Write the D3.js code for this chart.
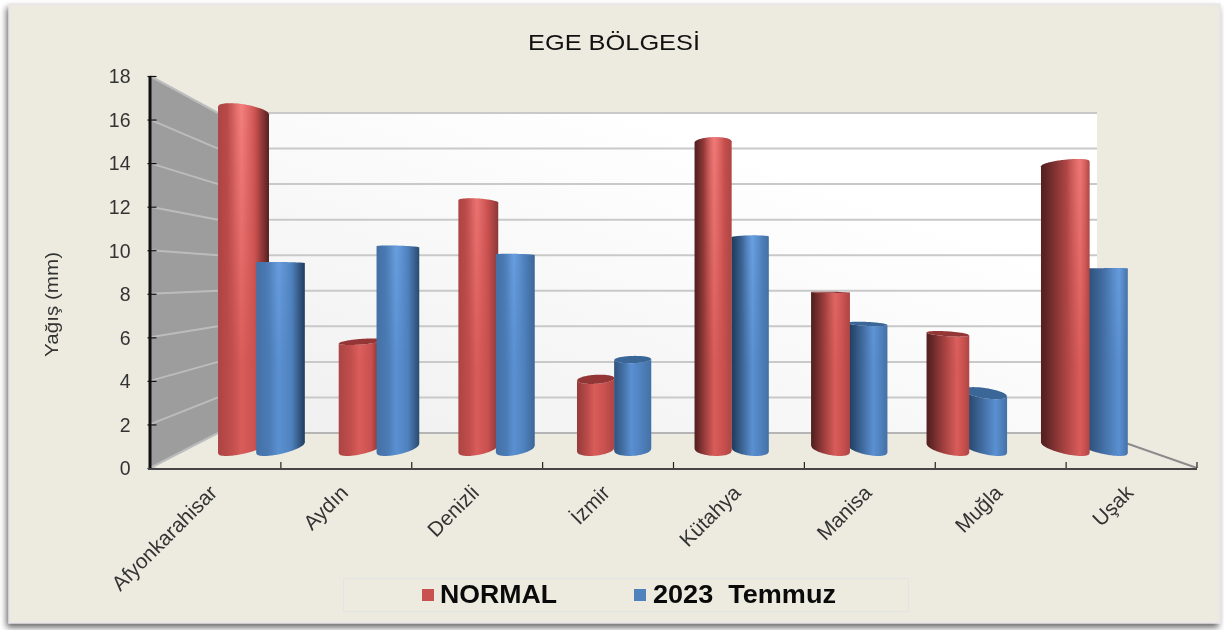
<!DOCTYPE html>
<html><head><meta charset="utf-8">
<script src="https://cdnjs.cloudflare.com/ajax/libs/d3/7.8.5/d3.min.js"></script>
<style>html,body{margin:0;padding:0;background:#fff;overflow:hidden}svg{display:block;filter:blur(0.55px)}text{font-family:"Liberation Sans",Arial,sans-serif}</style>
</head><body><svg id="c" width="1224" height="630"></svg>
<script>
const chartTitle = "EGE BÖLGESİ";
const yAxisTitle = "Yağış (mm)";
const categories = ["Afyonkarahisar","Aydın","Denizli","İzmir","Kütahya","Manisa","Muğla","Uşak"];
const seriesNames = ["NORMAL","2023  Temmuz"];
const normalValues = [17.2,5.5,12.6,3.6,15.6,8.0,5.9,14.5];
const temmuzValues = [9.5,10.3,9.9,4.6,10.8,6.4,2.9,9.2];
const yTicks = [0,2,4,6,8,10,12,14,16,18];
const seriesColors = [
  {base:"#c9514f",light:"#d95c5a",dark:"#4a1c1c",cap:"#953636",gloss:"#ff8f8c"},
  {base:"#4f81bd",light:"#5a90d2",dark:"#1c3654",cap:"#3a6698",gloss:"#86bdfa"}
];

const svg = d3.select("#c");
const defs = svg.append("defs");
const f = defs.append("filter").attr("id","sh").attr("x","-3%").attr("y","-3%").attr("width","106%").attr("height","106%");
f.append("feDropShadow").attr("dx",-2).attr("dy",4).attr("stdDeviation",3).attr("flood-color","#000").attr("flood-opacity",.6);
svg.append("rect").attr("x",9).attr("y",4).attr("width",1211).attr("height",619)
  .attr("fill","#edebe0").attr("stroke","#e4dfe8").attr("stroke-width",1).attr("filter","url(#sh)");

// scales
const yFront = d3.scaleLinear().domain([0,18]).range([468,76]);
const yBack = d3.scaleLinear().domain([0,18]).range([433,113]);
const yBar = d3.scaleLinear().domain([0,18]).range([450.5,94.5]);
const xAxisBand = d3.scaleBand().domain(categories).range([150,1197]);
const xGroup = d3.scaleBand().domain(categories).range([203.3,1142.5]);
const xSeries = d3.scaleBand().domain(seriesNames).range([-37,37]);
const wallL = 218, wallR = 1097, frontL = 150, frontR = 1197;

// back wall
const bg = defs.append("linearGradient").attr("id","wall").attr("x1",0).attr("y1",1).attr("x2",1).attr("y2",0);
bg.append("stop").attr("offset",0).attr("stop-color","#efefef");
bg.append("stop").attr("offset",.55).attr("stop-color","#fbfbfb");
bg.append("stop").attr("offset",.75).attr("stop-color","#ffffff");
svg.append("rect").attr("x",wallL).attr("y",yBack(18)).attr("width",wallR-wallL).attr("height",yBack(0)-yBack(18)).attr("fill","url(#wall)");

// side wall
svg.append("path").attr("d",d3.line()([[frontL,yFront(0)],[frontL,yFront(18)],[wallL,yBack(18)],[wallL,yBack(0)]])+"Z").attr("fill","#9d9d9d");

// gridlines
const grid = svg.append("g").attr("fill","none").attr("stroke-width",2);
yTicks.forEach(t=>{
  grid.append("line").attr("stroke","#c9c9c9").attr("x1",wallL).attr("x2",wallR).attr("y1",yBack(t)).attr("y2",yBack(t));
  grid.append("line").attr("stroke","#bcbcbc").attr("x1",frontL).attr("x2",wallL).attr("y1",yFront(t)).attr("y2",yBack(t));
});
svg.append("line").attr("x1",wallL).attr("x2",wallR).attr("y1",yBack(0)).attr("y2",yBack(0)).attr("stroke","#b5b5b5").attr("stroke-width",2);
svg.append("line").attr("x1",wallR).attr("y1",yBack(0)).attr("x2",frontR).attr("y2",yFront(0)).attr("stroke","#8c8c8c").attr("stroke-width",2);

// cylinders
const eye = 280, midX = 673, flare = 7.57e-5, depthK = 0.035, capBoost = 1.3;
const lineGen = d3.line();
function rim(cx,rx,yc,sign,settle,boost){
  const ry = (yc-eye)*depthK*sign*(boost||1);
  const topEase = yc<eye ? .7 : 1;
  const shear = (yc-eye)/170*0.22*Math.tanh((cx-midX)/150)*topEase;
  const drop = settle ? Math.hypot(ry,shear*rx)-Math.abs(ry)+.5 : 0;
  return d3.range(-1,1.0001,0.05).map(u=>[cx+u*rx, yc-drop+shear*u*rx+ry*Math.sqrt(Math.max(0,1-u*u))]);
}
// gloss: brighter highlight towards the top of the plot
const vFade = defs.append("linearGradient").attr("id","fade").attr("gradientUnits","userSpaceOnUse").attr("x1",0).attr("x2",0).attr("y1",100).attr("y2",370);
vFade.append("stop").attr("offset",0).attr("stop-color","#fff");
vFade.append("stop").attr("offset",1).attr("stop-color","#000");
defs.append("mask").attr("id","fadeMask").attr("maskUnits","userSpaceOnUse").attr("x",0).attr("y",0).attr("width",1224).attr("height",630)
  .append("rect").attr("width",1224).attr("height",630).attr("fill","url(#fade)");

function drawBar(gi,si,v){
  const name = categories[gi], col = seriesColors[si];
  const cx = xGroup(name)+xGroup.bandwidth()/2+xSeries(seriesNames[si])+xSeries.bandwidth()/2;
  const off = cx-midX, w = 37+flare*off*off, rx = w/2;
  const t2 = (cx-560)/500;
  const dL = Math.min(.92,.22+Math.max(0,t2)*2.5), dR = Math.min(.92,.22+Math.max(0,-t2)*1.6);
  const p = off<0 ? .46 : .5+.33*off/430;
  const id = `g${gi}_${si}`;
  const g = defs.append("linearGradient").attr("id",id);
  const mix = d3.interpolateRgb(col.base,col.dark);
  [[0,mix(dL)],[p*.12,mix(dL*.92)],[p*.6,mix(dL*.3)],[p,col.light],[p+(1-p)*.5,col.base],[1,mix(dR)]]
    .forEach(([o,c])=>g.append("stop").attr("offset",o).attr("stop-color",c));
  const gl = defs.append("linearGradient").attr("id",id+"h");
  [[Math.max(0,p-.28),0],[p,.7],[Math.min(1,p+.28),0]].forEach(([o,a])=>
    gl.append("stop").attr("offset",o).attr("stop-color",col.gloss).attr("stop-opacity",a));
  const yT = yBar(v), yB = yBar(0);
  const boost = yT>eye ? capBoost : 1;
  const d = lineGen(rim(cx,rx,yB,1,true).concat(rim(cx,rx,yT,1,false,boost).reverse()))+"Z";
  svg.append("path").attr("d",d).attr("fill",`url(#${id})`);
  svg.append("path").attr("d",d).attr("fill",`url(#${id}h)`).attr("mask","url(#fadeMask)");
  if(yT>eye){
    svg.append("path").attr("d",lineGen(rim(cx,rx,yT,1,false,boost).concat(rim(cx,rx,yT,-1,false,boost).reverse()))+"Z").attr("fill",col.cap);
  }
}
categories.forEach((c,i)=>{
  const order = (xGroup(c)+xGroup.bandwidth()/2) > 640 ? [1,0] : [0,1];
  order.forEach(si=>drawBar(i,si,(si===0?normalValues:temmuzValues)[i]));
});

// axes
const yAxis = d3.axisLeft(yFront).tickValues(yTicks).tickSize(0).tickPadding(19);
const yg = svg.append("g").attr("transform",`translate(${frontL-.5},0)`).call(yAxis);
yg.select(".domain").attr("stroke","#111").attr("stroke-width",3);
yg.selectAll("text").attr("font-size",19.5).attr("fill","#333").attr("dy","0.35em");
yg.selectAll(".tick").append("line").attr("x1",-2).attr("x2",7).attr("y1",0).attr("y2",0).attr("stroke","#111").attr("stroke-width",1.2);

const xBase = svg.append("g");
xBase.append("line").attr("x1",frontL-2).attr("x2",frontR).attr("y1",yFront(0)+1).attr("y2",yFront(0)+1).attr("stroke","#454545").attr("stroke-width",2);
categories.forEach(c=>{
  const x = xAxisBand(c)+xAxisBand.bandwidth();
  xBase.append("line").attr("x1",x).attr("x2",x).attr("y1",yFront(0)-6).attr("y2",yFront(0)).attr("stroke","#222").attr("stroke-width",1.2);
  const lx = xAxisBand(c)+xAxisBand.bandwidth()/2+3;
  svg.append("text").text(c).attr("text-anchor","end").attr("font-size",20.8).attr("fill","#333")
    .attr("transform",`translate(${lx},${yFront(0)+26}) rotate(-45)`);
});

// title, axis title
svg.append("text").text(chartTitle).attr("x",528).attr("y",50).attr("font-size",22).attr("fill","#111")
  .attr("textLength",172).attr("lengthAdjust","spacingAndGlyphs");
svg.append("text").text(yAxisTitle).attr("transform","translate(58,357) rotate(-90)").attr("font-size",18).attr("fill","#333")
  .attr("textLength",105).attr("lengthAdjust","spacingAndGlyphs");

// legend
svg.append("rect").attr("x",343.5).attr("y",578.5).attr("width",565).attr("height",33).attr("fill","none").attr("stroke","#e2e5e6").attr("stroke-width",1);
const legendItems = [{sx:422,tx:440,tl:117},{sx:634,tx:653,tl:183}];
seriesNames.forEach((n,i)=>{
  const it = legendItems[i];
  svg.append("rect").attr("x",it.sx).attr("y",589).attr("width",12).attr("height",12).attr("fill",seriesColors[i].base);
  svg.append("text").text(n).style("white-space","pre").attr("x",it.tx).attr("y",603).attr("font-size",25).attr("font-weight","bold").attr("fill","#0a0a0a")
    .attr("textLength",it.tl).attr("lengthAdjust","spacingAndGlyphs");
});
</script></body></html>
